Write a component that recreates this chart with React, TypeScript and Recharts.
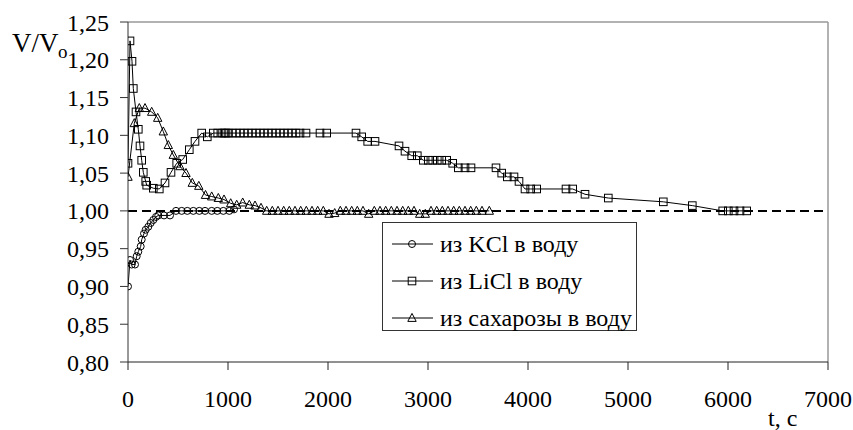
import { LineChart, Line, XAxis, YAxis, ReferenceLine } from 'recharts';

// время, с
const kclTime = [0, 20, 37, 70, 87, 103, 127, 137, 160, 177, 203, 227, 253, 280, 303, 360, 420, 480, 537, 593, 653, 713, 770, 837, 893, 953, 1013, 1060];
const kclRatio = [0.900, 0.935, 0.929, 0.929, 0.940, 0.946, 0.953, 0.962, 0.970, 0.975, 0.979, 0.984, 0.988, 0.992, 0.994, 0.994, 0.994, 1.000, 1.000, 1.000, 1.000, 1.000, 1.000, 1.000, 1.000, 1.000, 1.000, 1.002];

const liclTime = [0, 20, 40, 53, 80, 103, 120, 137, 153, 177, 187, 253, 313, 370, 430, 487, 547, 613, 670, 737, 793, 853, 897, 940, 960, 980, 1000, 1040, 1080, 1120, 1160, 1200, 1240, 1280, 1320, 1360, 1400, 1440, 1480, 1520, 1560, 1600, 1640, 1680, 1720, 1780, 1920, 1987, 2280, 2337, 2397, 2470, 2710, 2770, 2837, 2893, 2953, 3003, 3047, 3093, 3137, 3187, 3247, 3303, 3370, 3430, 3680, 3737, 3793, 3860, 3910, 3970, 4027, 4087, 4380, 4447, 4570, 4803, 5353, 5643, 5947, 6003, 6060, 6120, 6187];
const liclRatio = [1.063, 1.225, 1.198, 1.162, 1.131, 1.108, 1.086, 1.067, 1.051, 1.039, 1.034, 1.030, 1.029, 1.037, 1.051, 1.063, 1.068, 1.081, 1.092, 1.103, 1.098, 1.103, 1.103, 1.103, 1.103, 1.103, 1.103, 1.103, 1.103, 1.103, 1.103, 1.103, 1.103, 1.103, 1.103, 1.103, 1.103, 1.103, 1.103, 1.103, 1.103, 1.103, 1.103, 1.103, 1.103, 1.103, 1.103, 1.103, 1.103, 1.098, 1.092, 1.092, 1.086, 1.079, 1.073, 1.073, 1.067, 1.067, 1.067, 1.067, 1.067, 1.067, 1.063, 1.057, 1.057, 1.057, 1.057, 1.050, 1.045, 1.045, 1.039, 1.029, 1.029, 1.029, 1.029, 1.029, 1.022, 1.017, 1.012, 1.007, 1.000, 1.000, 1.000, 1.000, 1.000];

const sucroseTime = [0, 63, 113, 170, 237, 297, 353, 403, 453, 520, 580, 643, 708, 775, 837, 903, 960, 1027, 1087, 1147, 1213, 1270, 1330, 1387, 1443, 1500, 1557, 1613, 1670, 1727, 1783, 1840, 1897, 1953, 2010, 2067, 2123, 2180, 2237, 2293, 2350, 2407, 2463, 2520, 2577, 2633, 2690, 2747, 2803, 2860, 2917, 2973, 3030, 3087, 3143, 3200, 3257, 3313, 3370, 3427, 3483, 3540, 3613];
const sucroseRatio = [1.045, 1.116, 1.136, 1.136, 1.131, 1.123, 1.105, 1.087, 1.074, 1.059, 1.050, 1.037, 1.033, 1.021, 1.019, 1.017, 1.015, 1.010, 1.008, 1.011, 1.008, 1.007, 1.004, 1.000, 1.000, 1.000, 1.000, 1.000, 1.000, 1.000, 1.000, 1.000, 1.000, 1.000, 0.996, 0.997, 1.000, 1.000, 1.000, 1.000, 1.000, 0.996, 1.000, 1.000, 1.000, 1.000, 1.000, 1.000, 1.000, 1.000, 0.996, 0.996, 1.000, 1.000, 1.000, 1.000, 1.000, 1.000, 1.000, 1.000, 1.000, 1.000, 1.000];

const xTicks = [0, 1000, 2000, 3000, 4000, 5000, 6000, 7000];
const yTicks = [0.8, 0.85, 0.9, 0.95, 1.0, 1.05, 1.1, 1.15, 1.2, 1.25];

const seriesNames = ['из KCl в воду', 'из LiCl в воду', 'из сахарозы в воду'];

const toPoints = (time: number[], ratio: number[]) => time.map((t, i) => ({ t, v: ratio[i] }));

const kclData = toPoints(kclTime, kclRatio);
const liclData = toPoints(liclTime, liclRatio);
const sucroseData = toPoints(sucroseTime, sucroseRatio);

const FONT = 'Liberation Serif';
const comma = (v: number) => v.toFixed(2).replace('.', ',');

const CircleMark = ({ cx, cy }: { cx: number; cy: number }) => (
  <circle cx={cx} cy={cy} r={3.5} fill="none" stroke="#000" strokeWidth={1} />
);
const SquareMark = ({ cx, cy }: { cx: number; cy: number }) => (
  <rect x={cx - 3.8} y={cy - 3.8} width={7.6} height={7.6} fill="none" stroke="#000" strokeWidth={1} />
);
const TriangleMark = ({ cx, cy }: { cx: number; cy: number }) => (
  <polygon
    points={`${cx},${cy - 4.6} ${cx + 4.2},${cy + 3.4} ${cx - 4.2},${cy + 3.4}`}
    fill="none"
    stroke="#000"
    strokeWidth={1}
  />
);

const marks = [CircleMark, SquareMark, TriangleMark];

const renderDot = (Mark: typeof CircleMark, prefix: string) => (props: any) => {
  if (props.cx == null || props.cy == null) return <g key={`${prefix}-${props.index}`} />;
  return (
    <g key={`${prefix}-${props.index}`}>
      <Mark cx={props.cx} cy={props.cy} />
    </g>
  );
};

// легенда рисуется поверх графика, чтобы не отнимать место у области построения
const LegendBox = () => (
  <div
    style={{
      position: 'absolute',
      left: 382,
      top: 222,
      width: 255,
      height: 109,
      boxSizing: 'border-box',
      border: '1px solid #333',
      background: '#fff',
      fontFamily: FONT,
      fontSize: 24,
      color: '#000',
    }}
  >
    {seriesNames.map((name, i) => {
      const Mark = marks[i];
      return (
        <div key={name} style={{ position: 'absolute', left: 8, top: 9 + i * 37, height: 24, display: 'flex', alignItems: 'center' }}>
          <svg width={44} height={24}>
            <line x1={1} y1={12} x2={42} y2={12} stroke="#000" strokeWidth={1} />
            <Mark cx={21} cy={12} />
          </svg>
          <span style={{ marginLeft: 5, whiteSpace: 'nowrap', lineHeight: '24px' }}>{name}</span>
        </div>
      );
    })}
  </div>
);

export default function App() {
  return (
    <div style={{ position: 'absolute', left: 0, top: 0, width: 853, height: 430, background: '#fff' }}>
      <LineChart width={853} height={430} margin={{ top: 22, right: 25, bottom: 0, left: 0 }}>
        <XAxis
          dataKey="t"
          type="number"
          domain={[0, 7000]}
          ticks={xTicks}
          interval={0}
          allowDataOverflow
          height={68}
          stroke="#222"
          tickSize={8}
          tickMargin={20}
          tick={{ fill: '#000', fontSize: 24, fontFamily: FONT }}
        />
        <YAxis
          dataKey="v"
          type="number"
          domain={[0.8, 1.25]}
          ticks={yTicks}
          interval={0}
          allowDataOverflow
          width={128}
          stroke="#333"
          tickSize={8}
          tickMargin={11}
          tickFormatter={comma}
          tick={{ fill: '#000', fontSize: 24, fontFamily: FONT }}
        />
        <ReferenceLine y={1.25} stroke="#999" strokeWidth={1.5} />
        <ReferenceLine x={7000} stroke="#999" strokeWidth={1.5} />
        <ReferenceLine y={1} stroke="#000" strokeWidth={2} strokeDasharray="9 5" />
        <Line
          data={kclData}
          dataKey="v"
          name={seriesNames[0]}
          stroke="#000"
          strokeWidth={1}
          dot={renderDot(CircleMark, 'kcl')}
          isAnimationActive={false}
        />
        <Line
          data={liclData}
          dataKey="v"
          name={seriesNames[1]}
          stroke="#000"
          strokeWidth={1}
          dot={renderDot(SquareMark, 'licl')}
          isAnimationActive={false}
        />
        <Line
          data={sucroseData}
          dataKey="v"
          name={seriesNames[2]}
          stroke="#000"
          strokeWidth={1}
          dot={renderDot(TriangleMark, 'suc')}
          isAnimationActive={false}
        />
      </LineChart>
      <LegendBox />
      <svg width={853} height={430} style={{ position: 'absolute', left: 0, top: 0, pointerEvents: 'none' }}>
        <text x={12} y={52} fontFamily={FONT} fontSize={27} fill="#000">V/V</text>
        <text x={58} y={58} fontFamily={FONT} fontSize={19} fill="#000">o</text>
        <text x={768} y={426} fontFamily={FONT} fontSize={24} fill="#000">t, c</text>
      </svg>
    </div>
  );
}
